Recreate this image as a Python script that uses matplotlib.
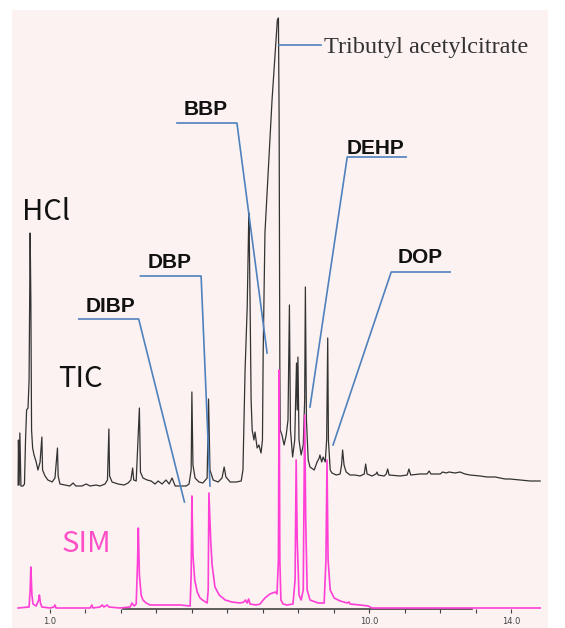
import matplotlib
matplotlib.use('Agg')
import matplotlib.pyplot as plt
from matplotlib.patches import Rectangle

# retention time (min) / signal
tic_time = [0.10, 0.11, 0.13, 0.15, 0.18, 0.24, 0.28, 0.31, 0.34, 0.38, 0.41, 0.44, 0.46, 0.48,
            0.51, 0.55, 0.61, 0.66, 0.72, 0.77, 0.79, 0.86, 0.94, 1.06, 1.14, 1.21, 1.23, 1.28,
            1.42, 1.56, 1.65, 1.73, 1.90, 2.02, 2.13, 2.30, 2.41, 2.55, 2.62, 2.66, 2.68, 2.75,
            2.92, 3.09, 3.20, 3.28, 3.33, 3.36, 3.43, 3.52, 3.55, 3.62, 3.74, 3.85, 3.96, 4.05,
            4.16, 4.27, 4.36, 4.44, 4.53, 4.69, 4.84, 4.92, 4.98, 5.00, 5.03, 5.09, 5.20, 5.31,
            5.43, 5.47, 5.51, 5.60, 5.74, 5.85, 5.91, 5.96, 6.08, 6.25, 6.39, 6.44, 6.50, 6.56,
            6.60, 6.61, 6.64, 6.67, 6.70, 6.75, 6.78, 6.84, 6.89, 6.95, 6.99, 7.01, 7.06, 7.26,
            7.41, 7.44, 7.46, 7.47, 7.48, 7.49, 7.54, 7.60, 7.66, 7.71, 7.75, 7.78, 7.84, 7.90,
            7.95, 7.97, 7.99, 8.02, 8.08, 8.14, 8.18, 8.20, 8.23, 8.28, 8.33, 8.45, 8.53, 8.59,
            8.61, 8.66, 8.70, 8.76, 8.80, 8.83, 8.85, 8.90, 8.95, 9.07, 9.18, 9.22, 9.25, 9.29,
            9.35, 9.46, 9.60, 9.74, 9.86, 9.90, 9.94, 10.08, 10.19, 10.22, 10.25, 10.42, 10.48,
            10.52, 10.56, 10.87, 11.07, 11.12, 11.17, 11.43, 11.63, 11.69, 11.74, 12.00, 12.07,
            12.17, 12.25, 12.42, 12.56, 12.70, 12.84, 13.13, 13.32, 13.55, 13.83, 13.97, 14.25,
            14.54, 14.82]
tic_signal = [123, 168, 123, 175, 122, 122, 124, 168, 198, 200, 228, 375, 308, 178,
              160, 153, 146, 138, 146, 171, 138, 132, 128, 126, 130, 160, 132, 124,
              123, 122, 125, 122, 122, 124, 122, 123, 122, 124, 128, 179, 132, 126,
              124, 123, 125, 128, 140, 128, 127, 200, 136, 130, 128, 127, 124, 127,
              124, 128, 124, 130, 122, 122, 122, 124, 138, 216, 143, 130, 126, 125,
              130, 209, 138, 128, 126, 130, 141, 131, 126, 126, 127, 138, 238, 301,
              383, 395, 308, 208, 178, 168, 176, 160, 163, 155, 168, 255, 375, 508,
              588, 590, 488, 358, 238, 178, 173, 163, 173, 188, 303, 178, 151, 168,
              245, 198, 251, 168, 153, 163, 208, 321, 188, 148, 141, 138, 146, 150,
              153, 146, 151, 146, 168, 270, 168, 138, 135, 133, 134, 143, 158, 143,
              136, 133, 133, 132, 134, 144, 134, 132, 134, 136, 133, 132, 134,
              139, 133, 132, 133, 139, 133, 134, 134, 137, 134, 134, 136,
              135, 136, 135, 136, 134, 133, 132, 131, 131, 129, 129, 128,
              127, 127]

sim_time = [0.10, 0.41, 0.44, 0.46, 0.49, 0.52, 0.61, 0.68, 0.70, 0.73, 0.77, 1.00, 1.11, 1.14,
            1.17, 2.13, 2.18, 2.21, 2.41, 2.47, 2.52, 2.61, 2.66, 2.97, 3.26, 3.31, 3.37, 3.43,
            3.47, 3.49, 3.52, 3.57, 3.62, 3.71, 3.82, 4.10, 4.67, 4.95, 4.98, 5.00, 5.03, 5.08,
            5.15, 5.23, 5.34, 5.43, 5.46, 5.48, 5.53, 5.57, 5.65, 5.77, 5.94, 6.13, 6.36, 6.47,
            6.51, 6.56, 6.60, 6.64, 6.81, 6.92, 7.06, 7.20, 7.35, 7.40, 7.44, 7.46, 7.48, 7.51,
            7.57, 7.68, 7.85, 7.91, 7.94, 7.97, 8.02, 8.08, 8.14, 8.18, 8.21, 8.25, 8.33, 8.56,
            8.73, 8.78, 8.81, 8.84, 8.90, 9.01, 9.18, 9.38, 9.43, 9.46, 9.74, 9.97, 10.08, 14.82]
sim_signal = [0, 1, 18, 41, 13, 4, 2, 8, 13, 5, 1, 0, 1, 3,
              0, 0, 3, 0, 1, 3, 1, 3, 1, 0, 1, 5, 2, 4,
              48, 80, 33, 13, 8, 5, 3, 3, 3, 2, 33, 112, 53, 28,
              16, 10, 7, 5, 18, 115, 68, 43, 21, 13, 8, 6, 5, 6,
              8, 5, 9, 4, 3, 4, 10, 14, 16, 14, 48, 238, 48, 8,
              4, 3, 4, 28, 148, 68, 13, 8, 18, 193, 88, 18, 8, 5,
              5, 48, 148, 48, 18, 10, 7, 5, 6, 4, 3, 2, 0, 0]

tick_minutes = list(range(1, 15))
tick_labels = ['1.0' if m == 1 else '10.0' if m == 10 else '14.0' if m == 14 else '' for m in tick_minutes]

# compound names and their leader lines (min, signal)
compounds = ['Tributyl acetylcitrate', 'BBP', 'DEHP', 'DOP', 'DBP', 'DIBP']
leaders = {
    'Tributyl acetylcitrate': ([7.46, 8.63], [563, 563]),
    'BBP': ([4.58, 6.27, 7.12], [485, 485, 255]),
    'DEHP': ([11.04, 9.38, 8.33], [451, 451, 201]),
    'DOP': ([12.28, 10.62, 8.98], [336, 336, 163]),
    'DBP': ([3.55, 5.26, 5.51], [332, 332, 122]),
    'DIBP': ([1.81, 3.50, 4.79], [289, 289, 106]),
}
label_pos = {
    'Tributyl acetylcitrate': (8.73, 555),
    'BBP': (4.78, 493),
    'DEHP': (9.37, 454),
    'DOP': (10.81, 345),
    'DBP': (3.76, 340),
    'DIBP': (2.00, 296),
}

fig = plt.figure(figsize=(5.65, 6.28), dpi=100)
fig.patch.set_facecolor('white')
fig.patches.append(Rectangle((12 / 565, 0), 536 / 565, 618 / 628, transform=fig.transFigure,
                             facecolor='#FBF2F1', edgecolor='none', zorder=-10))
ax = fig.add_axes([0, 0, 1, 1])
ax.set_facecolor('none')
ax.set_xlim(-0.41, 15.52)
ax.set_ylim(-20, 608)

ax.plot(tic_time, tic_signal, color='#333333', lw=0.9, zorder=2)
ax.plot(sim_time, sim_signal, color='#FF3FD6', lw=1.2, zorder=3)

blue = '#4F81BD'
for name in compounds:
    xs, ys = leaders[name]
    ax.plot(xs, ys, color=blue, lw=1.2, zorder=4)
    x, y = label_pos[name]
    if name == 'Tributyl acetylcitrate':
        ax.text(x, y, name, fontsize=17.5, family='Liberation Serif', color='#333333',
                ha='left', va='baseline', zorder=5)
    else:
        ax.text(x, y, name, fontsize=15, family='Liberation Sans', fontweight='bold',
                color='#111111', ha='left', va='baseline', zorder=5)

ax.text(0.22, 388, 'HCl', fontsize=21, family=['Noto Sans CJK KR', 'DejaVu Sans'],
        color='#111111', ha='left', va='baseline')
ax.text(1.23, 221, 'TIC', fontsize=21, family=['Noto Sans CJK KR', 'DejaVu Sans'],
        color='#111111', ha='left', va='baseline')
ax.text(1.34, 56, 'SIM', fontsize=21, family=['Noto Sans CJK KR', 'DejaVu Sans'],
        color='#FF4FC8', ha='left', va='baseline')

for side in ['top', 'left', 'right']:
    ax.spines[side].set_visible(False)
ax.spines['bottom'].set_position(('data', -1))
ax.spines['bottom'].set_bounds(3.05, 12.9)
ax.spines['bottom'].set_color('#444444')
ax.spines['bottom'].set_linewidth(1.2)
ax.set_xticks(tick_minutes)
ax.set_xticklabels(tick_labels)
ax.set_yticks([])
ax.tick_params(axis='x', direction='out', length=3, width=0.8, colors='#444444',
               labelsize=6, pad=3)

fig.savefig('out.png', dpi=100)
